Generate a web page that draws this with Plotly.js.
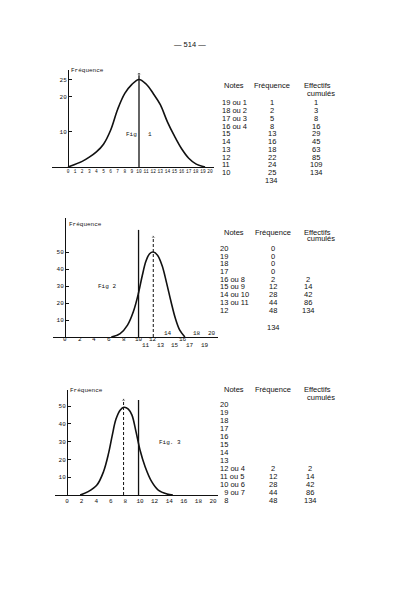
<!DOCTYPE html>
<html><head><meta charset="utf-8">
<script src="https://cdn.plot.ly/plotly-3.0.1.min.js"></script>
<style>html,body{margin:0;padding:0;background:#fff}#c{width:396px;height:599px}</style>
</head><body><div id="c"></div>
<script>
// ---------- DATA ----------
// Fig 1 (curve)
const fig1X = [0,2,3,4,5,6,7,8,9,10,11,12,13,14,15,16,17,18,19.3];
const fig1Y = [0,1.6,2.8,4.3,6.5,10.5,16.5,21,23.6,25,23.7,21,17.8,12.9,8.8,5.2,2.5,0.9,0];
const fig1Mark = 10;
const fig1TickVals = [0,1,2,3,4,5,6,7,8,9,10,11,12,13,14,15,16,17,18,19,20];
const fig1YTicks = [10,20,25];
const table1Notes = ["19 ou 1","18 ou 2","17 ou 3","16 ou 4","15","14","13","12","11","10"];
const table1Freq  = ["1","2","5","8","13","16","18","22","24","25"];
const table1Cum   = ["1","3","8","16","29","45","63","85","109","134"];
const table1Total = "134";

// Fig 2
const fig2X = [6.3,7.5,8.5,9.3,10,10.5,11,11.5,12,12.6,13.2,13.8,14.4,15,15.6,16.3];
const fig2Y = [0,2,7,15,26,36,44.5,49,50,48,42,32,21,11,4,0];
const fig2Solid = 10, fig2Dash = 12;
const fig2TicksOn = [0,2,4,6,8,10,12,16];
const fig2TicksBelow = [11,13,15,17,19];
const fig2TicksAbove = [14,18,20];
const fig2YTicks = [10,20,30,40,50];
const table2Notes = ["20","19","18","17","16 ou 8","15 ou 9","14 ou 10","13 ou 11","12"];
const table2Freq  = ["0","0","0","0","2","12","28","44","48"];
const table2Cum   = ["","","","","2","14","42","86","134"];
const table2Total = "134";

// Fig 3
const fig3X = [1.8,2.9,4.1,5.0,5.7,6.2,6.7,7.3,7.8,8.4,8.9,9.45,10.0,10.7,11.6,12.5,13.7,14.5];
const fig3Y = [0,1.9,5.6,13.1,23.5,33.5,42.5,47.8,49.3,48.3,44.9,35.6,25.3,15.9,7.5,2.8,0.6,0];
const fig3Solid = 9.8, fig3Dash = 7.75;
const fig3TickVals = [0,2,4,6,8,10,12,14,16,18,20];
const fig3YTicks = [10,20,30,40,50];
const table3Notes = ["20","19","18","17","16","15","14","13","12 ou 4","11 ou 5","10 ou 6","\u20079 ou 7","\u20078"];
const table3Freq  = ["","","","","","","","","2","12","28","44","48"];
const table3Cum   = ["","","","","","","","","2","14","42","86","134"];

// ---------- LAYOUT HELPERS ----------
const W=396, H=599;
const px = x => x/W, py = y => 1 - y/H;
const mono = 'Liberation Mono, DejaVu Sans Mono, monospace';
const sans = 'Liberation Sans, Arial, sans-serif';
const ann = [];
function txt(t,x,y,o){ann.push(Object.assign({text:t,x:px(x),y:py(y),xref:'paper',yref:'paper',showarrow:false,xanchor:'left',yanchor:'middle',font:{family:sans,size:7.5,color:'#111'}},o||{}));}

function table(hy, cy, r0, step, nx, fx, cx, notes, freq, cum){
  txt('Notes', 222, hy);
  txt('Fréquence', fx, hy, {xanchor:'center'});
  txt('Effectifs', 302, hy);
  txt('cumulés', 305, cy);
  notes.forEach((n,i)=>{
    const y=r0+i*step;
    txt(n, nx, y);
    if(freq[i]) txt(freq[i], fx, y, {xanchor:'center'});
    if(cum[i]) txt(cum[i], cx, y, {xanchor:'center'});
  });
}
table(86, 93, 102.7, 7.78, 220.5, 271.7, 316, table1Notes, table1Freq, table1Cum);
txt(table1Total, 271.5, 180, {xanchor:'center'});
table(232.7, 239, 248.3, 7.72, 218.3, 273.3, 308, table2Notes, table2Freq, table2Cum);
txt(table2Total, 273, 327, {xanchor:'center'});
table(390, 397.7, 404, 8.0, 218.3, 272.7, 310, table3Notes, table3Freq, table3Cum);

// page number
txt('— 514 —', 190, 44, {xanchor:'center'});

// figure labels
const smallMono = {family:mono,size:6,color:'#111'};
txt('Fréquence', 69, 71, {font:smallMono});
txt('Fig', 124, 134, {font:smallMono});
txt('1', 146, 134, {font:smallMono});
txt('Fréquence', 67, 224, {font:smallMono});
txt('Fig 2', 96, 286, {font:smallMono});
txt('Fréquence', 68, 391, {font:smallMono});
txt('Fig. 3', 157, 442, {font:smallMono});

// fig2 tick labels as typed on the page
fig2TicksOn.forEach(v=>ann.push({text:String(v),x:v,y:0,xref:'x2',yref:'y2',showarrow:false,yshift:-2,font:smallMono}));
fig2TicksBelow.forEach(v=>ann.push({text:String(v),x:v,y:0,xref:'x2',yref:'y2',showarrow:false,yshift:-8,font:smallMono}));
fig2TicksAbove.forEach(v=>ann.push({text:String(v),x:v,y:0,xref:'x2',yref:'y2',showarrow:false,yshift:4,font:smallMono}));

// ---------- TRACES ----------
const curve = {mode:'lines',line:{color:'#111',width:1.6,shape:'spline',smoothing:1},hoverinfo:'skip'};
const vline = (x,top,xa,ya,dash,arrow)=>({x:[x,x],y:[0,top],xaxis:xa,yaxis:ya,mode:arrow?'lines+markers':'lines',
  line:{color:'#111',width:dash?1:1.3,dash:dash?'3px,2px':'solid'},marker:{symbol:'triangle-up',size:[0,4],color:'#111'},hoverinfo:'skip'});

const data = [
  Object.assign({x:fig1X,y:fig1Y,xaxis:'x',yaxis:'y'},curve),
  vline(fig1Mark,26.6,'x','y',false,true),
  Object.assign({x:fig2X,y:fig2Y,xaxis:'x2',yaxis:'y2'},curve),
  vline(fig2Solid,63,'x2','y2',false,false),
  vline(fig2Dash,58.8,'x2','y2',true,true),
  Object.assign({x:fig3X,y:fig3Y,xaxis:'x3',yaxis:'y3'},curve),
  vline(fig3Solid,53.4,'x3','y3',false,false),
  vline(fig3Dash,53.4,'x3','y3',true,true)
];

const xBase = {showline:true,linecolor:'#111',linewidth:1,showgrid:false,zeroline:false,ticks:'',tickangle:0,tickfont:smallMono,fixedrange:true};
const yBase = {showline:true,linecolor:'#111',linewidth:1.2,showgrid:false,zeroline:false,ticks:'inside',ticklen:3,tickcolor:'#111',anchor:'free',tickfont:smallMono,fixedrange:true};

const layout = {
  width:W,height:H,margin:{l:0,r:0,t:0,b:0},paper_bgcolor:'#fff',plot_bgcolor:'rgba(0,0,0,0)',showlegend:false,
  xaxis: Object.assign({},xBase,{domain:[px(52),px(214)],range:[-2.25,20.56],anchor:'y',tickvals:fig1TickVals,tickfont:{family:mono,size:4.5,color:'#111'}}),
  yaxis: Object.assign({},yBase,{domain:[py(167),py(70)],range:[0,27.7],position:px(68),tickvals:fig1YTicks}),
  xaxis2: Object.assign({},xBase,{domain:[px(53),px(218)],range:[-1.63,20.8],anchor:'y2',showticklabels:false}),
  yaxis2: Object.assign({},yBase,{domain:[py(337),py(218)],range:[0,70],position:px(65),tickvals:fig2YTicks}),
  xaxis3: Object.assign({},xBase,{domain:[px(55),px(218)],range:[-1.64,20.68],anchor:'y3',tickvals:fig3TickVals}),
  yaxis3: Object.assign({},yBase,{domain:[py(495),py(390)],range:[0,59],position:px(67),tickvals:fig3YTicks}),
  annotations: ann
};
Plotly.newPlot('c', data, layout, {staticPlot:true,displayModeBar:false});
</script></body></html>
